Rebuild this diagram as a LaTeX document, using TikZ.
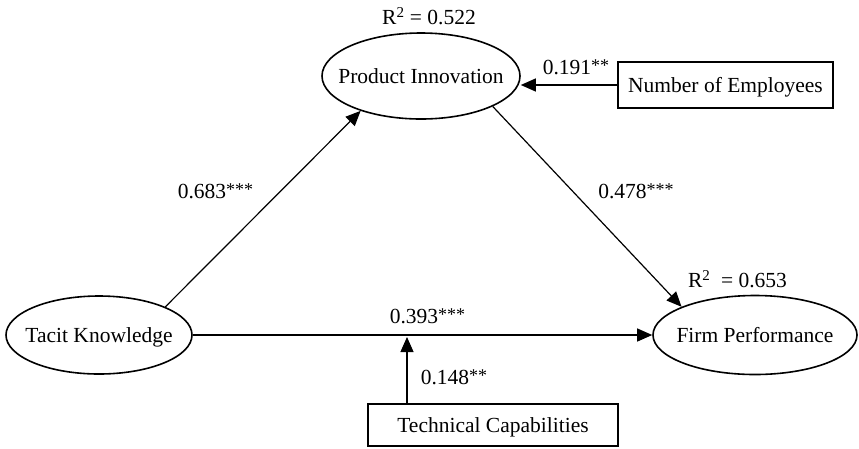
\documentclass[tikz,border=0pt]{standalone}
\usepackage{fontspec}
\setmainfont{Liberation Serif}
\usetikzlibrary{shapes.geometric,arrows.meta}
\newcommand{\fixt}[1]{\raisebox{-0.33em}[0pt][0pt]{\makebox[0pt]{#1}}}
\newcommand{\stars}[1]{\raisebox{2.4pt}{\fontsize{18}{20}\selectfont #1}}
\begin{document}
\begin{tikzpicture}[x=1pt,y=-1pt,
  lat/.style={draw,ellipse,line width=1.6pt,inner sep=0pt,font=\fontsize{21.5}{24}\selectfont},
  obs/.style={draw,rectangle,line width=1.3pt,inner sep=0pt,font=\fontsize{21.5}{24}\selectfont},
  path/.style={line width=1.2pt,-{Triangle[length=15pt,width=13pt]}},
  lbl/.style={font=\fontsize{21.5}{24}\selectfont,inner sep=0pt}]
\useasboundingbox (0,0) rectangle (859,448);
\node[lat,minimum width=198pt,minimum height=86pt] (pi) at (421,76) {\fixt{Product Innovation}};
\node[lat,minimum width=186pt,minimum height=78pt] (tk) at (99,335) {\fixt{Tacit Knowledge}};
\node[lat,minimum width=204pt,minimum height=79pt] (fp) at (755,335) {\fixt{Firm Performance}};
\node[obs,minimum width=215pt,minimum height=46pt] (ne) at (725.5,85) {\fixt{Number of Employees}};
\node[obs,minimum width=250pt,minimum height=42pt] (tc) at (493,425) {\fixt{Technical Capabilities}};
\coordinate (m) at (407,337);
\draw[path] (ne.west) -- (ne.west -| pi.east);
\draw[path] (tk.23) -- (pi.210);
\draw[path] (pi.-23) -- (fp.159);
\draw[path] (tk.east) -- (fp.west);
\draw[path] (tc.north -| m) -- (m);
\node[lbl] at (429,16) {R\textsuperscript{2} = 0.522};
\node[lbl] at (576,67) {0.191\stars{**}};
\node[lbl] at (215.5,191) {0.683\stars{***}};
\node[lbl] at (636,191) {0.478\stars{***}};
\node[lbl] at (737.5,279) {R\textsuperscript{2}\ \ = 0.653};
\node[lbl] at (427.5,316) {0.393\stars{***}};
\node[lbl] at (454,377) {0.148\stars{**}};
\end{tikzpicture}
\end{document}
